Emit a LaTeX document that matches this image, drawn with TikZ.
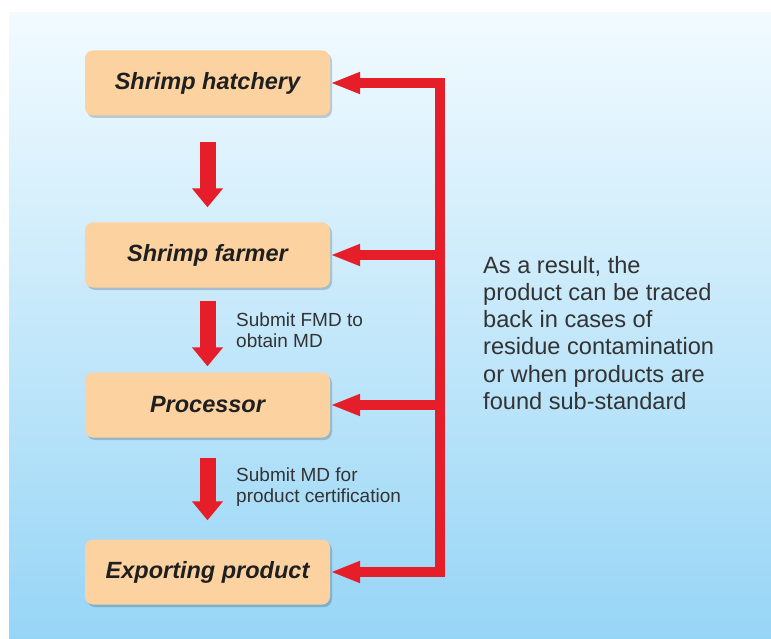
\documentclass[tikz,border=0pt]{standalone}
\usepackage{fontspec}
\setmainfont{Liberation Sans}
\usetikzlibrary{arrows.meta,shadows,calc}
\definecolor{bgtop}{HTML}{F2FBFF}
\definecolor{bgbot}{HTML}{97D5F6}
\definecolor{boxfill}{HTML}{FCD2A0}
\definecolor{arrred}{HTML}{E61E2A}
\definecolor{txt}{HTML}{333333}
\begin{document}
\begin{tikzpicture}[x=1pt,y=-1pt,
  stagebox/.style={draw=none, fill=boxfill, rounded corners=8pt, minimum width=245pt, minimum height=65pt,
    font=\fontsize{23.5}{28}\selectfont\bfseries\itshape, text=black!88,
    drop shadow={shadow xshift=2pt,shadow yshift=-2.5pt,fill=black,opacity=0.18}},
  flowarrow/.style={draw=arrred, line width=16pt, -{Triangle[length=19pt,width=30pt]}},
  backarrow/.style={draw=arrred, line width=9pt, -{Triangle[length=30pt,width=20pt]}},
  note/.style={font=\fontsize{19}{21}\selectfont, text=txt, align=left, inner sep=0pt, anchor=north west}]
\useasboundingbox (0,0) rectangle (771,639);
\shade[top color=bgtop, bottom color=bgbot] (9,13) rectangle (771,639);

\node[stagebox] (h) at (207.5,83) {Shrimp hatchery};
\node[stagebox] (f) at (207.5,255) {Shrimp farmer};
\node[stagebox] (p) at (207.5,405) {Processor};
\node[stagebox] (e) at (207.5,572) {Exporting product};

\draw[flowarrow, shorten <=26pt, shorten >=15pt] (h.south) -- (f.north);
\draw[flowarrow, shorten <=13pt, shorten >=6pt] (f.south) -- (p.north);
\draw[flowarrow, shorten <=20pt, shorten >=19pt] (p.south) -- (e.north);

\coordinate (tc) at (440,83);
\coordinate (bc) at (440,572);
\draw[draw=arrred, line width=9.5pt, {Triangle[length=30pt,width=20pt]}-{Triangle[length=30pt,width=20pt]}]
  (h.east) -- (tc) -- (bc) -- (e.east);
\draw[backarrow, line width=9.5pt] (f.east -| tc) -- (f.east);
\draw[backarrow, line width=9.5pt] (p.east -| tc) -- (p.east);

\node[note] (l1) at (236,313) {Submit FMD to\\obtain MD};
\node[note] (l2) at (236,468) {Submit MD for\\product certification};
\node[note, font=\fontsize{23.6}{27.2}\selectfont] (r) at (483,256)
  {As a result, the\\product can be traced\\back in cases of\\residue contamination\\or when products are\\found sub-standard};
\end{tikzpicture}
\end{document}
